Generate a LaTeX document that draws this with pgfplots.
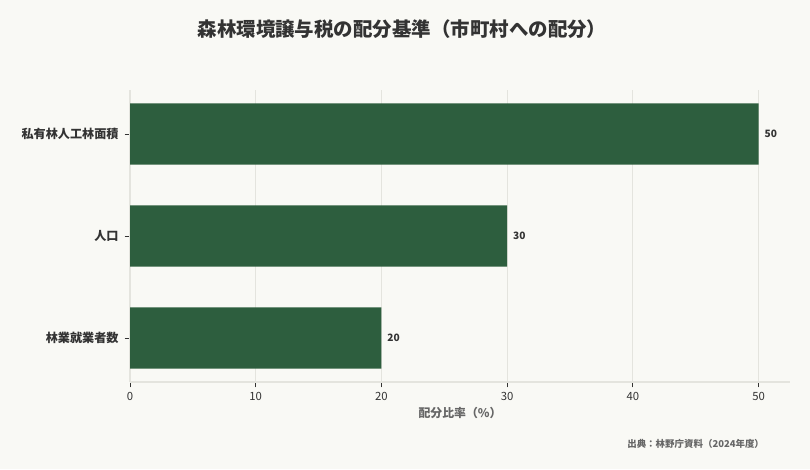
\documentclass[border=0pt]{standalone}
\usepackage{pgfplots}
\pgfplotsset{compat=1.18}
\usepackage{fontspec}
\setmainfont{Noto Sans CJK JP}
\definecolor{bg}{HTML}{F9F9F5}
\definecolor{bar}{HTML}{2D5E3E}
\definecolor{gridc}{HTML}{E4E4DE}
\definecolor{txt}{HTML}{333333}
\definecolor{lab}{HTML}{666666}
\begin{document}
\begin{tikzpicture}[x=1pt,y=1pt]
\fill[bg] (0,0) rectangle (607.5,351.75);
\path[use as bounding box] (0,0) rectangle (607.5,351.75);
\node[font=\bfseries\fontsize{14.6}{17}\selectfont, text=txt] at (301.5,330) {森林環境譲与税の配分基準（市町村への配分）};
\node[font=\fontsize{7.1}{8}\selectfont\bfseries, text=lab, anchor=east] at (576.5,18.75) {出典：林野庁資料（2024年度）};
\begin{axis}[
  at={(97.5pt,65.25pt)}, anchor=south west,
  scale only axis, width=495pt, height=219pt,
  xbar, bar width=0.6, bar shift=0pt,
  xmin=0, xmax=52.5, ymin=-0.43, ymax=2.43,
  ytick={0,1,2},
  yticklabels={林業就業者数,人口,私有林人工林面積},
  xtick={0,10,20,30,40,50},
  /pgf/number format/assume math mode=true,
  xmajorgrids, grid style={gridc, line width=0.6pt},
  axis x line*=bottom, axis y line*=left,
  axis line style={gridc, line width=0.8pt},
  tick style={txt, line width=0.6pt},
  major tick length=4pt,
  tick align=outside,
  x tick label style={font=\fontsize{8.5}{10}\selectfont, text=txt},
  y tick label style={font=\bfseries\fontsize{9.1}{10}\selectfont, text=txt, xshift=-1pt},
  xlabel={配分比率（\%）},
  xlabel style={font=\bfseries\fontsize{8.9}{10}\selectfont, text=lab, yshift=2pt},
  nodes near coords,
  nodes near coords style={font=\bfseries\fontsize{7.6}{8}\selectfont, text=txt, anchor=west, xshift=1pt},
  point meta=explicit symbolic,
]
\addplot[fill=bar, draw=none] coordinates {(20,0) [20] (30,1) [30] (50,2) [50]};
\end{axis}
\end{tikzpicture}
\end{document}
